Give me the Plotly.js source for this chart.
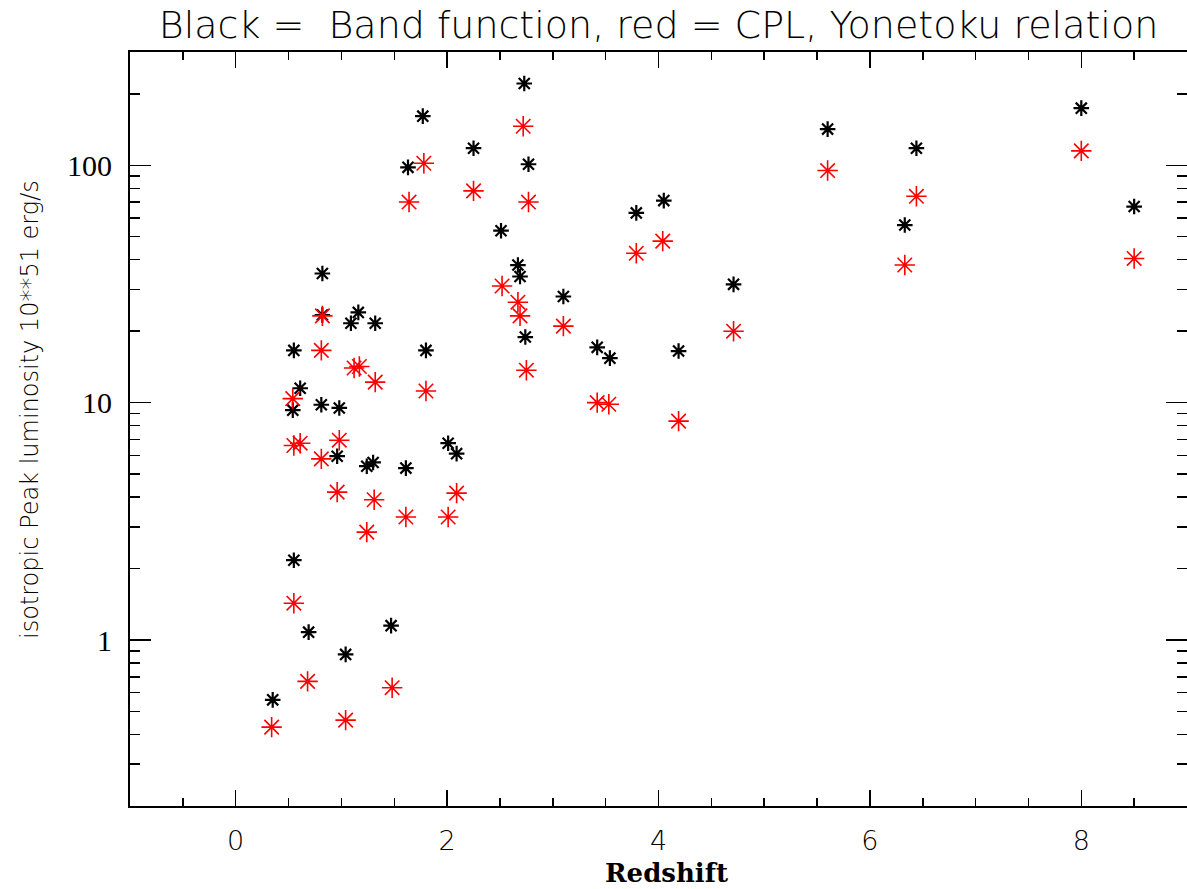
<!DOCTYPE html>
<html>
<head>
<meta charset="utf-8">
<script src="https://cdn.plot.ly/plotly-3.0.1.min.js"></script>
<style>html,body{margin:0;padding:0;background:#fff;}#chart{width:1187px;height:889px;}</style>
</head>
<body>
<div id="chart"></div>
<script>
// Band function (black)
const bandZ = [0.35,0.55,0.55,0.54,0.61,0.69,0.81,0.82,0.82,0.96,0.98,1.04,1.09,1.16,1.24,1.30,1.32,1.47,1.61,1.63,1.77,1.80,2.01,2.09,2.25,2.51,2.67,2.69,2.73,2.74,2.77,3.10,3.42,3.54,3.79,4.05,4.19,4.71,5.60,6.33,6.44,8.00,8.50];
const bandL = [0.56,2.17,16.6,9.3,11.5,1.08,9.8,35,23.4,5.95,9.5,0.87,21.6,24,5.4,5.6,21.6,1.15,5.3,98,161,16.6,6.75,6.1,118,53,38,34,221,18.9,101,28,17.1,15.4,63,71,16.5,31.5,142,56,118,174,67];
// CPL (red)
const cplZ = [0.34,0.55,0.54,0.55,0.61,0.68,0.81,0.81,0.82,0.96,0.98,1.04,1.12,1.17,1.24,1.31,1.32,1.48,1.61,1.64,1.78,1.80,2.01,2.09,2.25,2.52,2.67,2.69,2.72,2.75,2.77,3.10,3.42,3.53,3.79,4.04,4.19,4.71,5.60,6.33,6.44,8.00,8.50];
const cplL = [0.43,1.43,10.4,6.6,6.75,0.67,5.8,16.6,23.2,4.2,6.95,0.46,14,14.2,2.85,3.9,12.2,0.63,3.3,70,102,11.2,3.3,4.16,78,31,26.5,23.2,146,13.7,70,21,10,9.85,42.6,47.9,8.36,20,95,38,74,115,40.5];

const xMajor = [0,2,4,6,8];
const xMinor = [-0.5,0.5,1,1.5,2.5,3,3.5,4.5,5,5.5,6.5,7,7.5,8.5];
const yMajor = [1,10,100];
const yMajorText = ['1','10','100'];
const yMinor = [0.2,0.3,0.4,0.5,0.6,0.7,0.8,0.9,2,3,4,5,6,7,8,9,20,30,40,50,60,70,80,90,200,300];

const titleText = 'Black =  Band function, red = CPL, Yonetoku relation';
const yTitle = 'isotropic Peak luminosity 10**51 erg/s';
const xTitle = 'Redshift';

const traces = [
  {x: bandZ, y: bandL, type:'scatter', mode:'markers', name:'Band',
   marker:{symbol:'asterisk-open', size:13, color:'#000', line:{color:'#000', width:2.2}}},
  {x: cplZ, y: cplL, type:'scatter', mode:'markers', name:'CPL',
   marker:{symbol:'asterisk-open', size:17, color:'#ff0000', line:{color:'#ff0000', width:1.6}}}
];

const layout = {
  width:1187, height:889,
  margin:{l:130, r:0, t:52, b:83},
  paper_bgcolor:'#fff', plot_bgcolor:'#fff',
  showlegend:false,
  title:{text:titleText, x:0.5, xref:'paper', xanchor:'center', y:1-25/889, yref:'container', yanchor:'middle',
         font:{family:'DejaVu Sans', size:38, color:'#000', weight:200}},
  xaxis:{range:[-1,9], showgrid:false, zeroline:false, showline:true, linecolor:'#000', linewidth:2,
         mirror:'ticks', ticks:'inside', ticklen:16, tickwidth:1.5, tickcolor:'#000',
         tickmode:'array', tickvals:xMajor, ticktext:xMajor.map(String), ticklabelstandoff:10,
         tickfont:{family:'DejaVu Sans', size:27, color:'#000', weight:200},
         minor:{tickmode:'array', tickvals:xMinor, ticks:'inside', ticklen:8, tickwidth:1.5, tickcolor:'#000', showgrid:false}},
  yaxis:{type:'log', range:[Math.log10(0.2), Math.log10(300)], showgrid:false, zeroline:false, showline:true, linecolor:'#000', linewidth:2,
         mirror:'ticks', ticks:'inside', ticklen:21, tickwidth:1.5, tickcolor:'#000',
         tickmode:'array', tickvals:yMajor, ticktext:yMajorText, ticklabelstandoff:10,
         tickfont:{family:'Liberation Serif', size:30, color:'#000'},
         minor:{tickmode:'array', tickvals:yMinor, ticks:'inside', ticklen:10, tickwidth:1.5, tickcolor:'#000', showgrid:false}},
  annotations:[
    {text:yTitle, xref:'paper', yref:'paper', x:(30-130)/1057, y:(806-410)/754, xanchor:'center', yanchor:'middle',
     textangle:-90, showarrow:false, font:{family:'DejaVu Sans', size:24, color:'#000', weight:200}},
    {text:xTitle, xref:'paper', yref:'paper', x:(666-130)/1057, y:(806-873)/754, xanchor:'center', yanchor:'middle',
     showarrow:false, font:{family:'DejaVu Serif', size:26, color:'#000', weight:'bold'}}
  ]
};

Plotly.newPlot('chart', traces, layout, {displayModeBar:false, staticPlot:true});
</script>
</body>
</html>
